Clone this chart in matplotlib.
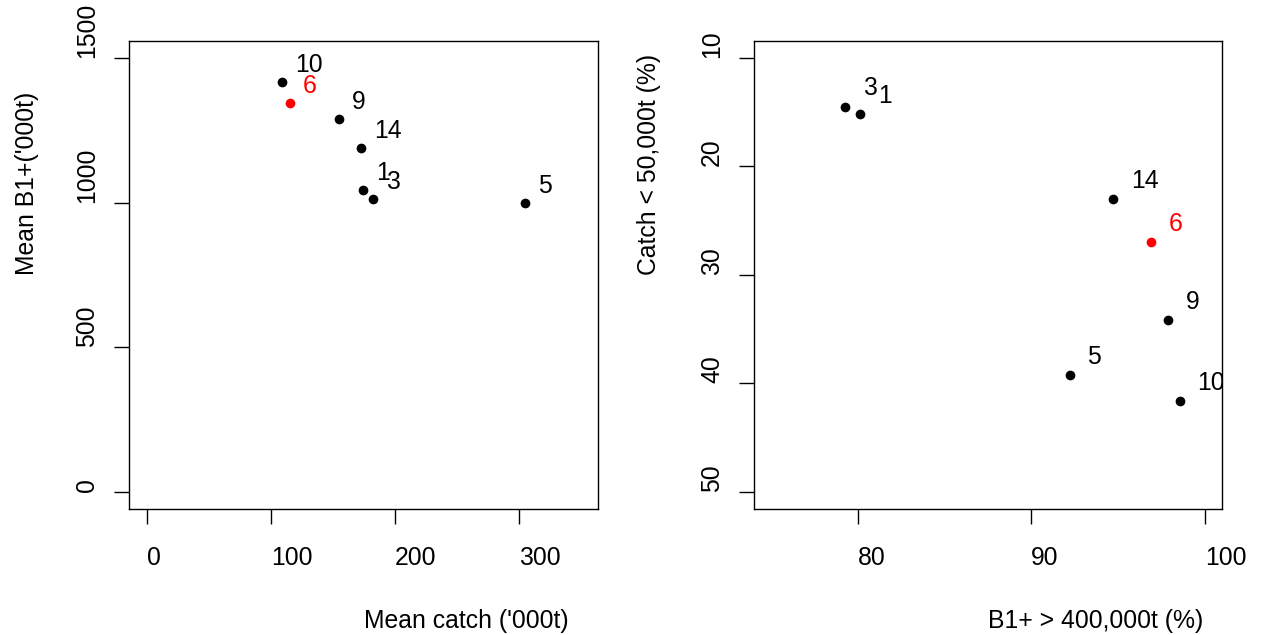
import matplotlib
matplotlib.use("Agg")
import matplotlib.pyplot as plt

plt.rcParams['font.family'] = ['Liberation Sans', 'DejaVu Sans']

# Data (scenario ids)
ids = ["1", "3", "5", "6", "9", "10", "14"]
mean_catch = [174.2, 182.2, 305.2, 115.5, 154.8, 108.8, 172.6]
mean_b1 = [1043, 1014, 998, 1345, 1289, 1417, 1188]
b1_pct = [80.14, 79.27, 92.22, 96.89, 97.9, 98.56, 94.74]
catch_pct = [15.2, 14.47, 39.22, 26.97, 34.18, 41.64, 22.98]
highlight = "6"

left_xticks = [0, 100, 200, 300]
left_yticks = [0, 500, 1000, 1500]
right_xticks = [80, 90, 100]
right_yticks = [10, 20, 30, 40, 50]

FS = 17.8
fig = plt.figure(figsize=(12.62, 6.35), dpi=100)
W, H = 1262, 635
ax1 = fig.add_axes([129.3 / W, 1 - 509 / H, (598 - 129.3) / W, (509 - 40.7) / H])
ax2 = fig.add_axes([754 / W, 1 - 509 / H, (1222 - 754) / W, (509 - 40.7) / H])


def draw(ax, xs, ys, offset):
    for lab, x, y in zip(ids, xs, ys):
        c = 'red' if lab == highlight else 'black'
        ax.plot([x], [y], 'o', color=c, markersize=7, markeredgewidth=0)
        ax.annotate(lab, (x, y), xytext=offset, textcoords='offset points',
                    ha='left', va='center', fontsize=FS, color=c,
                    annotation_clip=False, clip_on=True)


draw(ax1, mean_catch, mean_b1, (9.5, 12.2))
draw(ax2, b1_pct, catch_pct, (12.6, 13.0))

ax1.set_xlim(0 - 14, 350 + 14)
ax1.set_ylim(-60, 1560)
ax2.set_xlim(75 - 1, 100 + 1)
ax2.set_ylim(50 + 1.6, 10 - 1.6)

for ax, xt, yt in [(ax1, left_xticks, left_yticks), (ax2, right_xticks, right_yticks)]:
    ax.set_xticks(xt)
    ax.set_yticks(yt)
    ax.set_xticklabels([str(v) for v in xt])
    ax.set_yticklabels([str(v) for v in yt])
    ax.tick_params(axis='both', direction='out', length=10.8, width=1.0,
                   labelsize=FS, color='black')
    ax.tick_params(axis='x', pad=15.5)
    ax.tick_params(axis='y', pad=19.4)
    for lb in ax.get_yticklabels():
        lb.set_rotation(90)
        lb.set_rotation_mode('anchor')
        lb.set_ha('left')
        lb.set_va('center')
    for lb in ax.get_xticklabels():
        lb.set_ha('left')
    for s in ax.spines.values():
        s.set_linewidth(1.0)
        s.set_color('black')

ax1.set_xlabel("Mean catch ('000t)", fontsize=FS, ha='left', va='center')
ax1.xaxis.set_label_coords(0.5, -0.239)
ax1.set_ylabel("Mean B1+('000t)", fontsize=FS, ha='left', va='center', rotation=90)
ax1.yaxis.set_label_coords(-0.218, 0.5)
ax1.yaxis.label.set_rotation_mode('anchor')

ax2.set_xlabel("B1+ > 400,000t (%)", fontsize=FS, ha='left', va='center')
ax2.xaxis.set_label_coords(0.5, -0.239)
ax2.set_ylabel("Catch < 50,000t (%)", fontsize=FS, ha='left', va='center', rotation=90)
ax2.yaxis.set_label_coords(-0.224, 0.5)
ax2.yaxis.label.set_rotation_mode('anchor')

fig.savefig("out.png", dpi=100)
